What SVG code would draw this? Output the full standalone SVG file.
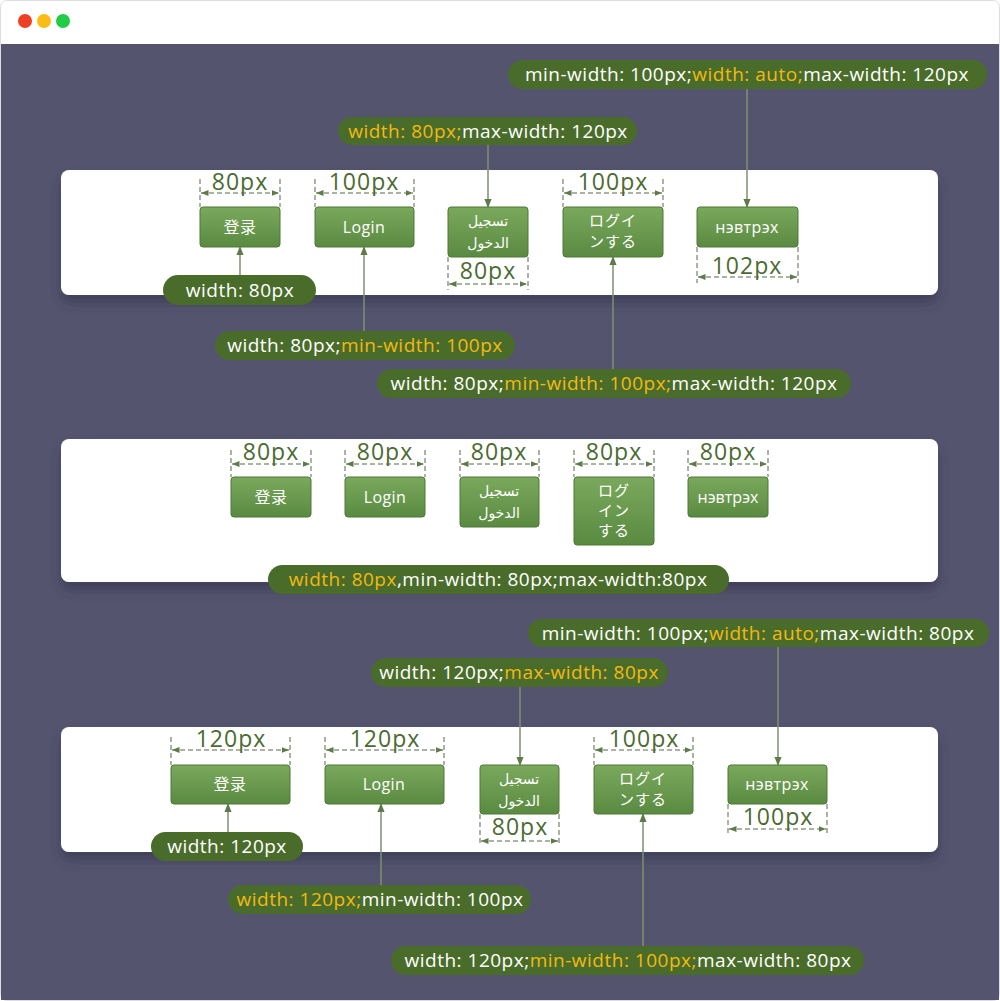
<svg xmlns="http://www.w3.org/2000/svg" width="1000" height="1001" viewBox="0 0 1000 1001">
<defs>
<linearGradient id="btn" x1="0" y1="0" x2="0" y2="1">
<stop offset="0" stop-color="#7aa95d"/>
<stop offset="1" stop-color="#5a8a41"/>
</linearGradient>
<filter id="sh" x="-5%" y="-20%" width="110%" height="150%">
<feDropShadow dx="0" dy="8" stdDeviation="6" flood-color="#2f2e48" flood-opacity="0.55"/>
</filter>
<marker id="arr" viewBox="0 0 10 10" refX="9" refY="5" markerWidth="6" markerHeight="6" orient="auto">
<path d="M0,1 L10,5 L0,9 z" fill="#5e7a48"/>
</marker>
<marker id="tick" viewBox="0 0 10 10" refX="10" refY="5" markerWidth="5" markerHeight="5" orient="auto-start-reverse">
<path d="M0,1 L10,5 L0,9 z" fill="#5e7a48"/>
</marker>
</defs>
<style>
.panel{fill:#ffffff;filter:url(#sh)}
.btn rect{fill:url(#btn);stroke:#4f7837;stroke-width:1}
.bt{fill:#ffffff;font-family:"Open Sans","DejaVu Sans","Noto Sans CJK JP",sans-serif;font-size:16px;letter-spacing:0.4px;text-anchor:middle}
.ar{font-size:14px;letter-spacing:0}
.jp{font-size:15px;letter-spacing:1px}
.dim{fill:#4b6b32;font-family:"Open Sans",sans-serif;font-size:23px;letter-spacing:1px;text-anchor:middle}
.dl{stroke:#8f9a86;stroke-width:1.5;stroke-dasharray:5 3;fill:none}
.dh{stroke:#8f9a86;stroke-width:1.5;stroke-dasharray:5 3;fill:none;marker-start:url(#tick);marker-end:url(#tick)}
.pill rect{fill:#4a6c2b}
.pt{fill:#ffffff;font-family:"Open Sans",sans-serif;font-size:19px;letter-spacing:0.5px;text-anchor:middle}
.y{fill:#f2b90f}
.con{stroke:#7f8f70;stroke-width:1.5;fill:none;marker-end:url(#arr)}
</style>
<!-- window frame -->
<rect x="0.5" y="0.5" width="999" height="1000" rx="6" fill="#ffffff" stroke="#dddddd"/>
<rect x="1" y="44" width="998" height="956" fill="#55546f"/>
<circle cx="25" cy="21" r="7" fill="#ee4123"/>
<circle cx="44" cy="21" r="7" fill="#fbbc13"/>
<circle cx="63" cy="21" r="7" fill="#22cc47"/>

<!-- panels -->
<rect class="panel" x="61" y="170" width="877" height="125" rx="8"/>
<rect class="panel" x="61" y="439" width="877" height="143" rx="8"/>
<rect class="panel" x="61" y="727" width="877" height="125" rx="8"/>

<!-- dimension marks -->
<g id="dims">
<!-- panel 1 -->
<path class="dl" d="M200,179V207M280,179V207M315,179V207M414,179V207M563,179V207M663,179V207M448,257V290M528,257V290M697,247V283M798,247V283"/>
<path class="dh" d="M201,193H279"/><text class="dim" x="240" y="190">80px</text>
<path class="dh" d="M316,193H413"/><text class="dim" x="364" y="190">100px</text>
<path class="dh" d="M564,193H662"/><text class="dim" x="613" y="190">100px</text>
<path class="dh" d="M449,284H527"/><text class="dim" x="488" y="279">80px</text>
<path class="dh" d="M698,277H797"/><text class="dim" x="747" y="274">102px</text>
<!-- panel 2 -->
<path class="dl" d="M231,450V477M311,450V477M345,450V477M425,450V477M460,450V477M539,450V477M574,450V477M654,450V477M688,450V477M768,450V477"/>
<path class="dh" d="M232,464H310"/><text class="dim" x="271" y="460">80px</text>
<path class="dh" d="M346,464H424"/><text class="dim" x="385" y="460">80px</text>
<path class="dh" d="M461,464H538"/><text class="dim" x="499" y="460">80px</text>
<path class="dh" d="M575,464H653"/><text class="dim" x="614" y="460">80px</text>
<path class="dh" d="M689,464H767"/><text class="dim" x="728" y="460">80px</text>
<!-- panel 3 -->
<path class="dl" d="M171,737V765M290,737V765M325,737V765M444,737V765M594,737V765M693,737V765M480,814V845M559,814V845M728,804V833M827,804V833"/>
<path class="dh" d="M172,750H289"/><text class="dim" x="231" y="747">120px</text>
<path class="dh" d="M326,750H443"/><text class="dim" x="385" y="747">120px</text>
<path class="dh" d="M595,750H692"/><text class="dim" x="644" y="747">100px</text>
<path class="dh" d="M481,841H558"/><text class="dim" x="520" y="835">80px</text>
<path class="dh" d="M729,829H826"/><text class="dim" x="778" y="825">100px</text>
</g>

<!-- buttons panel 1 -->
<g id="b1-1" class="btn"><rect x="200" y="207" width="80" height="40" rx="3"/><text class="bt" x="240" y="233">登录</text></g>
<g id="b1-2" class="btn"><rect x="315" y="207" width="99" height="40" rx="3"/><text class="bt" x="364" y="233">Login</text></g>
<g id="b1-3" class="btn"><rect x="448" y="207" width="80" height="50" rx="3"/><text class="bt ar" x="488" y="226">تسجيل</text><text class="bt ar" x="488" y="248">الدخول</text></g>
<g id="b1-4" class="btn"><rect x="563" y="207" width="100" height="50" rx="3"/><text class="bt jp" x="613" y="226">ログイ</text><text class="bt jp" x="613" y="247">ンする</text></g>
<g id="b1-5" class="btn"><rect x="697" y="207" width="101" height="40" rx="3"/><text class="bt" x="747" y="233">нэвтрэх</text></g>

<!-- buttons panel 2 -->
<g id="b2-1" class="btn"><rect x="231" y="477" width="80" height="40" rx="3"/><text class="bt" x="271" y="503">登录</text></g>
<g id="b2-2" class="btn"><rect x="345" y="477" width="80" height="40" rx="3"/><text class="bt" x="385" y="503">Login</text></g>
<g id="b2-3" class="btn"><rect x="460" y="477" width="79" height="50" rx="3"/><text class="bt ar" x="499" y="496">تسجيل</text><text class="bt ar" x="499" y="518">الدخول</text></g>
<g id="b2-4" class="btn"><rect x="574" y="477" width="80" height="68" rx="3"/><text class="bt jp" x="614" y="496">ログ</text><text class="bt jp" x="614" y="516">イン</text><text class="bt jp" x="614" y="536">する</text></g>
<g id="b2-5" class="btn"><rect x="688" y="477" width="80" height="40" rx="3"/><text class="bt" x="728" y="503" style="letter-spacing:0">нэвтрэх</text></g>

<!-- buttons panel 3 -->
<g id="b3-1" class="btn"><rect x="171" y="765" width="119" height="39" rx="3"/><text class="bt" x="230" y="790">登录</text></g>
<g id="b3-2" class="btn"><rect x="325" y="765" width="119" height="39" rx="3"/><text class="bt" x="384" y="790">Login</text></g>
<g id="b3-3" class="btn"><rect x="480" y="765" width="79" height="49" rx="3"/><text class="bt ar" x="519" y="784">تسجيل</text><text class="bt ar" x="519" y="806">الدخول</text></g>
<g id="b3-4" class="btn"><rect x="594" y="765" width="99" height="49" rx="3"/><text class="bt jp" x="643" y="784">ログイ</text><text class="bt jp" x="643" y="805">ンする</text></g>
<g id="b3-5" class="btn"><rect x="728" y="765" width="99" height="39" rx="3"/><text class="bt" x="777" y="790">нэвтрэх</text></g>

<!-- connectors -->
<g id="connectors">
<path class="con" d="M747,89V207"/>
<path class="con" d="M488,145V207"/>
<path class="con" d="M240,275V247"/>
<path class="con" d="M364,331V247"/>
<path class="con" d="M613,369V257"/>
<path class="con" d="M778,647V765"/>
<path class="con" d="M520,687V765"/>
<path class="con" d="M228,832V804"/>
<path class="con" d="M381,885V804"/>
<path class="con" d="M643,946V814"/>
</g>

<!-- pills -->
<g id="p1" class="pill"><rect x="508" y="60" width="479" height="29" rx="14.5"/><text class="pt" x="747" y="81">min-width: 100px;<tspan class="y">width: auto;</tspan>max-width: 120px</text></g>
<g id="p2" class="pill"><rect x="338" y="117" width="299" height="28" rx="14"/><text class="pt" x="488" y="138"><tspan class="y">width: 80px;</tspan>max-width: 120px</text></g>
<g id="p3" class="pill"><rect x="163" y="275" width="153" height="30" rx="15"/><text class="pt" x="240" y="297">width: 80px</text></g>
<g id="p4" class="pill"><rect x="215" y="331" width="300" height="29" rx="14.5"/><text class="pt" x="365" y="352">width: 80px;<tspan class="y">min-width: 100px</tspan></text></g>
<g id="p5" class="pill"><rect x="377" y="369" width="474" height="29" rx="14.5"/><text class="pt" x="614" y="390">width: 80px;<tspan class="y">min-width: 100px;</tspan>max-width: 120px</text></g>
<g id="p6" class="pill"><rect x="268" y="565" width="461" height="29" rx="14.5"/><text class="pt" x="498" y="586"><tspan class="y">width: 80px</tspan>,min-width: 80px;max-width:80px</text></g>
<g id="p7" class="pill"><rect x="528" y="619" width="461" height="28" rx="14"/><text class="pt" x="758" y="640">min-width: 100px;<tspan class="y">width: auto;</tspan>max-width: 80px</text></g>
<g id="p8" class="pill"><rect x="371" y="658" width="297" height="29" rx="14.5"/><text class="pt" x="519" y="679">width: 120px;<tspan class="y">max-width: 80px</tspan></text></g>
<g id="p9" class="pill"><rect x="151" y="832" width="152" height="29" rx="14.5"/><text class="pt" x="227" y="853">width: 120px</text></g>
<g id="p10" class="pill"><rect x="228" y="885" width="303" height="29" rx="14.5"/><text class="pt" x="380" y="906"><tspan class="y">width: 120px;</tspan>min-width: 100px</text></g>
<g id="p11" class="pill"><rect x="391" y="946" width="473" height="29" rx="14.5"/><text class="pt" x="628" y="967">width: 120px;<tspan class="y">min-width: 100px;</tspan>max-width: 80px</text></g>
</svg>
